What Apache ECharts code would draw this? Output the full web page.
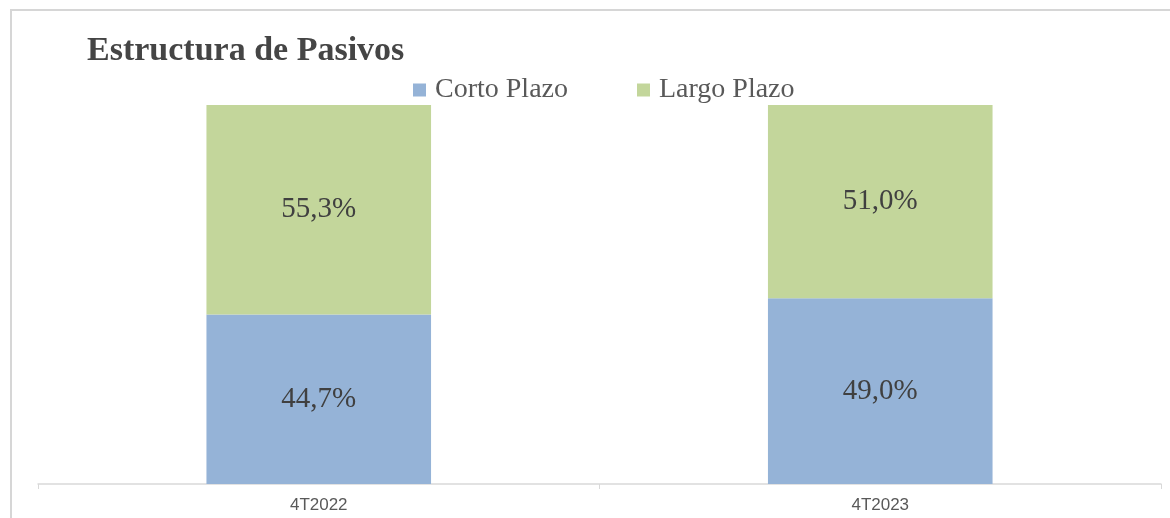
<!DOCTYPE html>
<html><head><meta charset="utf-8">
<script src="https://cdn.jsdelivr.net/npm/echarts@6/dist/echarts.min.js"></script>
<style>html,body{margin:0;padding:0;background:#fff}#c{width:1170px;height:518px}</style>
</head><body><div id="c"></div>
<script>
const categories = ['4T2022', '4T2023'];
const cortoPlazo = [44.7, 49.0];
const largoPlazo = [55.3, 51.0];
const seriesNames = ['Corto Plazo', 'Largo Plazo'];

const fmt = p => p.value.toFixed(1).replace('.', ',') + '%';
const labelStyle = {show: true, position: 'inside', formatter: fmt, fontFamily: 'Liberation Serif', fontSize: 29, color: '#404040'};

const chart = echarts.init(document.getElementById('c'));
chart.setOption({
  animation: false,
  backgroundColor: '#fff',
  graphic: [{type: 'rect', shape: {x: 11, y: 10, width: 1300, height: 700}, style: {fill: 'none', stroke: '#d6d6d6', lineWidth: 2}, z: -1}],
  title: {text: 'Estructura de Pasivos', left: 82, top: 29, textStyle: {fontFamily: 'Liberation Serif', fontWeight: 'bold', fontSize: 34, color: '#454545'}},
  legend: {left: 408, top: 71, itemWidth: 13, itemHeight: 13, itemGap: 69, icon: 'rect',
    textStyle: {fontFamily: 'Liberation Serif', fontSize: 28, color: '#595959', padding: [0, 0, 0, 4]},
    data: seriesNames},
  grid: {left: 38, right: 9, top: 105, bottom: 34},
  xAxis: {type: 'category', data: categories, boundaryGap: true,
    axisLine: {lineStyle: {color: '#d9d9d9', width: 1.5}},
    axisTick: {show: true, length: 5, lineStyle: {color: '#d9d9d9'}},
    axisLabel: {fontFamily: 'Liberation Sans', fontSize: 17, color: '#595959', margin: 13}},
  yAxis: {type: 'value', min: 0, max: 100, show: false, splitLine: {show: false}},
  series: [
    {name: seriesNames[0], type: 'bar', stack: 't', data: cortoPlazo, barWidth: '40%', itemStyle: {color: '#95b3d7'}, label: labelStyle},
    {name: seriesNames[1], type: 'bar', stack: 't', data: largoPlazo, barWidth: '40%', itemStyle: {color: '#c3d69b'}, label: labelStyle}
  ]
});
</script></body></html>
